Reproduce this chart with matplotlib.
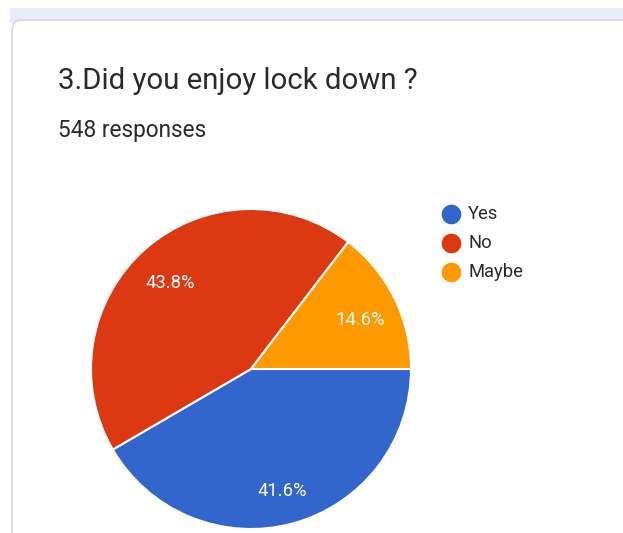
import matplotlib
matplotlib.use("Agg")
import matplotlib.pyplot as plt
import matplotlib.transforms as mtransforms
from matplotlib.patches import FancyBboxPatch, Rectangle

# Survey answers
categories = ["Yes", "No", "Maybe"]
shares = [41.6, 43.8, 14.6]
colors = ["#3366cc", "#dc3912", "#ff9900"]
title = "3.Did you enjoy lock down ?"
subtitle = "548 responses"

W, H = 623, 533
fig = plt.figure(figsize=(W / 100, H / 100), dpi=100)
fig.patch.set_facecolor("white")

# background layer in pixel coordinates (y downwards)
bg = fig.add_axes([0, 0, 1, 1])
bg.set_xlim(0, W)
bg.set_ylim(H, 0)
bg.axis("off")
bg.add_patch(Rectangle((10, 8), W, 14, facecolor="#e8ebf8", edgecolor="none"))
bg.add_patch(FancyBboxPatch((12, 20), W + 40, H + 40,
                            boxstyle="round,pad=0,rounding_size=10",
                            facecolor="white", edgecolor="#d6d6d6", linewidth=1.2))

bg.text(58, 89, title, fontsize=21.2, family="Roboto", color="#2a2a2a",
        va="baseline", ha="left")
bg.text(58, 137, subtitle, fontsize=16.3, family="Roboto", color="#2a2a2a",
        va="baseline", ha="left")

# legend
for i, (cat, col) in enumerate(zip(categories, colors)):
    y = 214 + i * 29
    bg.scatter([451], [y], s=200, color=col, zorder=3, linewidths=0)
    bg.text(468, y, cat, fontsize=13.2, family="Roboto", color="#2a2a2a",
            va="center", ha="left")

# pie
cx, cy, r = 251, 369, 160
ax = fig.add_axes([(cx - r) / W, (H - cy - r) / H, 2 * r / W, 2 * r / H])
wedges, texts, autotexts = ax.pie(
    shares, colors=colors, startangle=0, counterclock=False,
    autopct=lambda p: f"{p:.1f}%", pctdistance=0.76,
    wedgeprops=dict(edgecolor="white", linewidth=1.5),
    textprops=dict(color="white", fontsize=13.3, family="Roboto"))
shift = mtransforms.ScaledTranslation(0, -3 / 100, fig.dpi_scale_trans)
for t in autotexts:
    t.set_va("center_baseline")
    t.set_transform(t.get_transform() + shift)
ax.set_xlim(-1, 1)
ax.set_ylim(-1, 1)
ax.set_aspect("equal")

fig.savefig("out.png", dpi=100)
